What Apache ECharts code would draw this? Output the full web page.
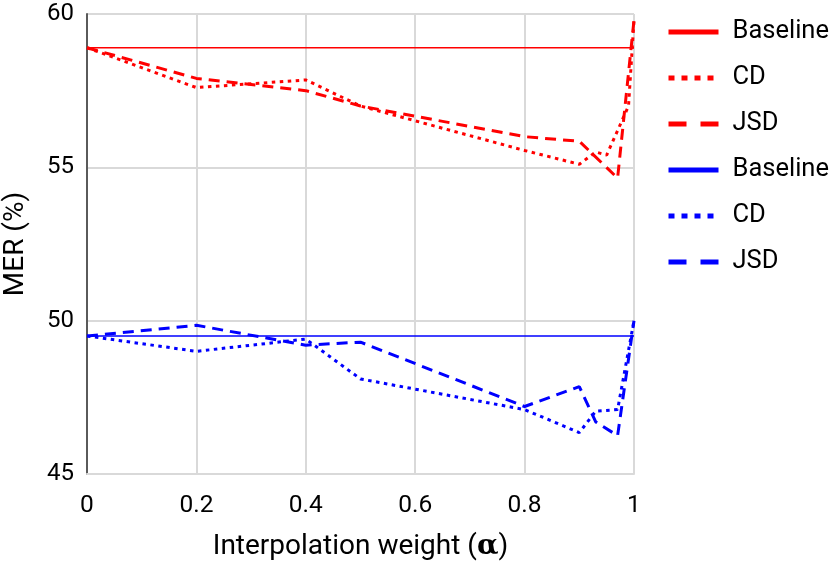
<!DOCTYPE html>
<html>
<head>
<meta charset="utf-8">
<script src="https://cdn.jsdelivr.net/npm/echarts@6/dist/echarts.min.js"></script>
<style>
  html, body { margin: 0; padding: 0; background: #fff; }
  #main { width: 831px; height: 562px; }
</style>
</head>
<body>
<div id="main"></div>
<script>
// values
var alphaTicks = [0, 0.2, 0.4, 0.6, 0.8, 1];
var merTicks = [45, 50, 55, 60];

var alphaBase = [0, 1];
var redBaseline = [58.9, 58.9];
var blueBaseline = [49.5, 49.5];

var alphaRedCD = [0, 0.2, 0.4, 0.5, 0.8, 0.9, 0.93, 0.95, 0.99, 1];
var redCD = [58.9, 57.6, 57.85, 57.0, 55.55, 55.1, 55.5, 55.4, 57.0, 59.8];

var alphaRedJSD = [0, 0.2, 0.4, 0.5, 0.8, 0.9, 0.97, 1];
var redJSD = [58.9, 57.9, 57.5, 57.0, 56.0, 55.85, 54.65, 59.8];

var alphaBlueCD = [0, 0.2, 0.4, 0.5, 0.8, 0.9, 0.93, 0.97, 1];
var blueCD = [49.5, 49.0, 49.4, 48.1, 47.1, 46.35, 47.05, 47.1, 50.0];

var alphaBlueJSD = [0, 0.2, 0.4, 0.5, 0.8, 0.9, 0.93, 0.97, 1];
var blueJSD = [49.5, 49.85, 49.2, 49.3, 47.2, 47.85, 46.7, 46.25, 50.0];

var labels = ['Baseline', 'CD', 'JSD'];

function pairs(xs, ys) {
    return xs.map(function(x, i) { return [x, ys[i]]; });
}

var RED = '#ff0000';
var BLUE = '#0000ff';
var DOT = [3.5, 4.5];
var DASH = [11, 7];

function makeSeries(name, color, data, type, width) {
    return {
        name: name,
        type: 'line',
        data: data,
        showSymbol: false,
        symbol: 'none',
        animation: false,
        lineStyle: { color: color, width: width, type: type },
        itemStyle: { color: color }
    };
}

var series = [
    makeSeries(labels[0] + '|r', RED, pairs(alphaBase, redBaseline), 'solid', 1.5),
    makeSeries(labels[1] + '|r', RED, pairs(alphaRedCD, redCD), DOT, 3),
    makeSeries(labels[2] + '|r', RED, pairs(alphaRedJSD, redJSD), DASH, 3),
    makeSeries(labels[0] + '|b', BLUE, pairs(alphaBase, blueBaseline), 'solid', 1.5),
    makeSeries(labels[1] + '|b', BLUE, pairs(alphaBlueCD, blueCD), DOT, 3),
    makeSeries(labels[2] + '|b', BLUE, pairs(alphaBlueJSD, blueJSD), DASH, 3)
];

// legend icons: thicker strokes, no symbol
var legendTypes = ['solid', [6, 7], [18, 14]];
var legendData = series.map(function(s, i) {
    return {
        name: s.name,
        itemStyle: { opacity: 0 },
        lineStyle: { width: 5, type: legendTypes[i % 3], color: s.lineStyle.color }
    };
});

var chart = echarts.init(document.getElementById('main'));
chart.setOption({
    backgroundColor: '#ffffff',
    textStyle: { fontFamily: 'Roboto' },
    grid: { left: 87, right: 197, top: 14, bottom: 88, containLabel: false, outerBoundsMode: 'none' },
    legend: {
        orient: 'vertical',
        left: 661,
        top: 14,
        itemWidth: 50,
        itemHeight: 14,
        itemGap: 20,
        itemStyle: { opacity: 0 },
        data: legendData,
        formatter: function(n) { return n.split('|')[0]; },
        textStyle: { fontSize: 25.5, color: '#000', lineHeight: 26, padding: [0, 0, 0, 9] }
    },
    xAxis: {
        type: 'value',
        min: alphaTicks[0],
        max: alphaTicks[alphaTicks.length - 1],
        interval: 0.2,
        name: 'Interpolation weight ({a|α})',
        nameLocation: 'middle',
        nameGap: 59,
        nameTextStyle: {
            fontSize: 28, color: '#000',
            rich: { a: { fontSize: 28, fontWeight: 'bold', fontFamily: 'DejaVu Serif', color: '#000' } }
        },
        axisLine: { show: true, lineStyle: { color: '#d9d9d9', width: 2 } },
        axisTick: { show: false },
        axisLabel: { fontSize: 24.5, color: '#000', margin: 19 },
        splitLine: { show: true, lineStyle: { color: '#d9d9d9', width: 2 } }
    },
    yAxis: {
        type: 'value',
        min: merTicks[0],
        max: merTicks[merTicks.length - 1],
        interval: 5,
        name: 'MER (%)',
        nameLocation: 'middle',
        nameRotate: 90,
        nameGap: 57,
        nameTextStyle: { fontSize: 28, color: '#000' },
        axisLine: { show: true, lineStyle: { color: '#5a5a5a', width: 2 } },
        axisTick: { show: false },
        axisLabel: { fontSize: 24, color: '#000', margin: 13 },
        splitLine: { show: true, lineStyle: { color: '#d9d9d9', width: 2 } }
    },
    series: series
});
</script>
</body>
</html>
